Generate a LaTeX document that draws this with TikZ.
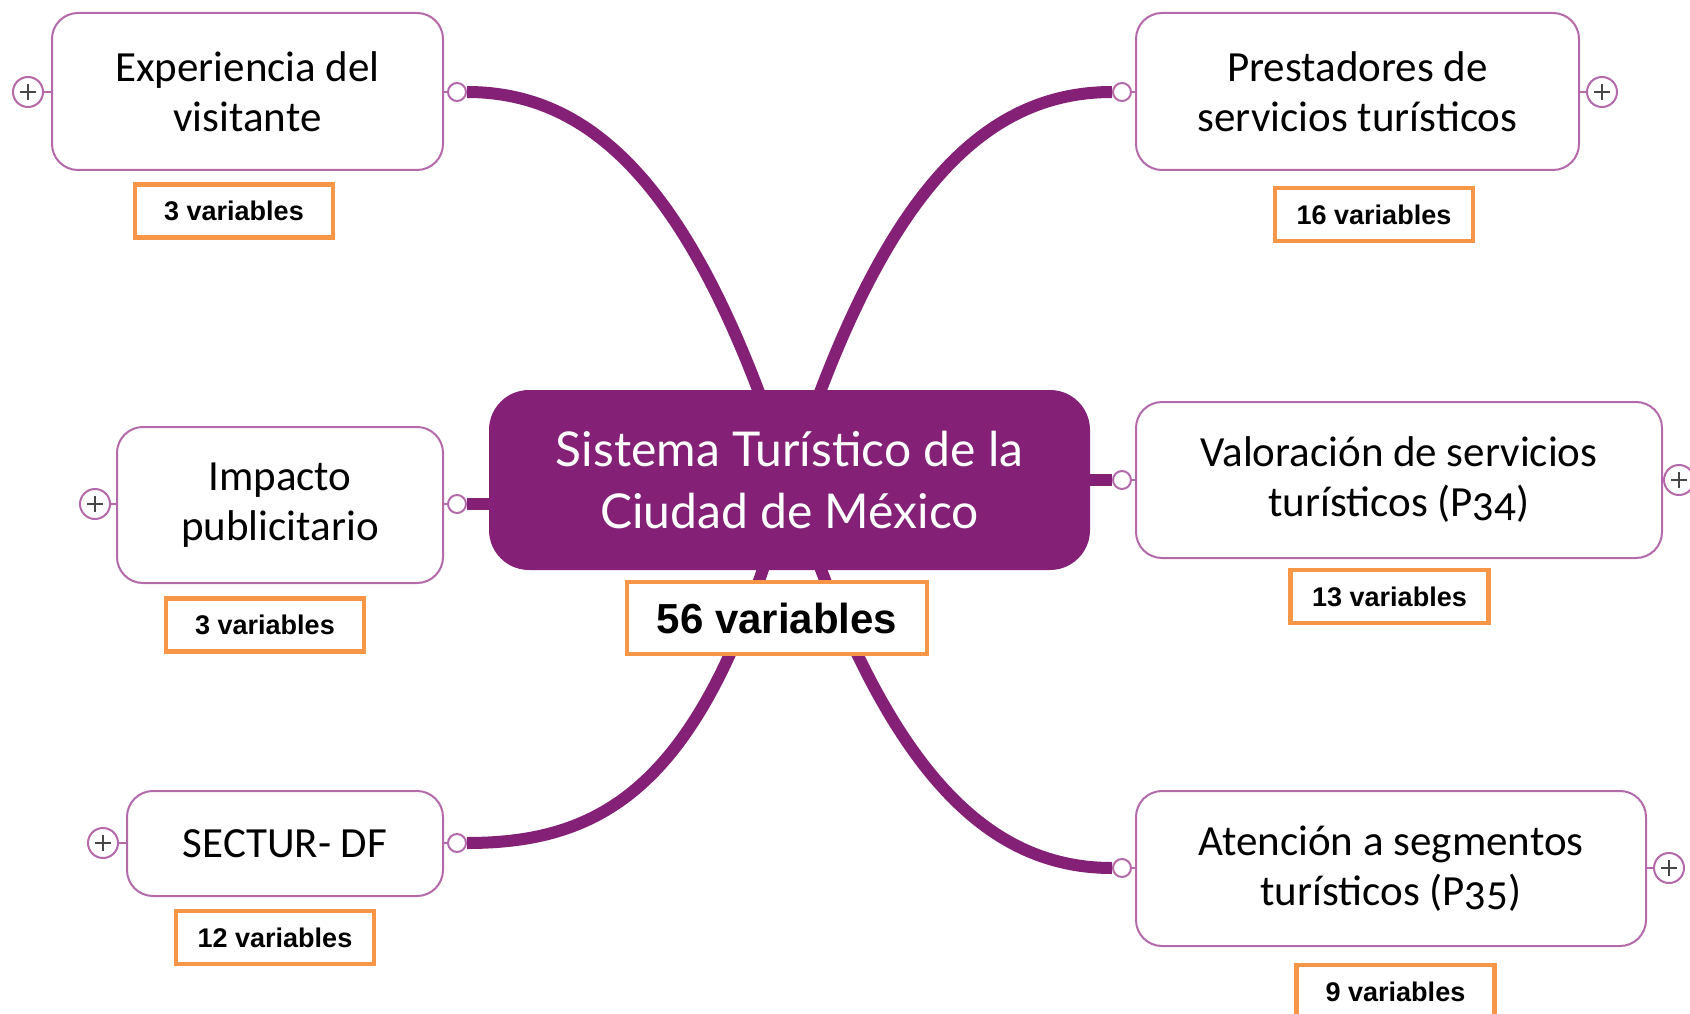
\documentclass[tikz,border=0pt]{standalone}
\usepackage{fontspec}
\newfontfamily\branchfont[Numbers=OldStyle]{Carlito}
\newfontfamily\centfont{Lato}
\newfontfamily\lblfont{Liberation Sans}
\usetikzlibrary{backgrounds}
\definecolor{mpurple}{RGB}{132,33,119}
\definecolor{bline}{RGB}{180,105,170}
\definecolor{morange}{RGB}{247,150,70}
\definecolor{plusgray}{RGB}{70,70,70}
\begin{document}
\begin{tikzpicture}[x=1pt,y=-1pt,
 branch/.style={draw=bline, line width=2pt, rounded corners=26pt, fill=white, align=center, inner sep=0pt, font=\branchfont\fontsize{43}{50}\selectfont},
 hub/.style={fill=mpurple, rounded corners=40pt, text=white, align=center, inner sep=0pt, minimum width=601pt, minimum height=180pt, font=\centfont\fontsize{48}{62}\selectfont},
 count/.style={draw=morange, line width=4.5pt, fill=white, inner sep=0pt, minimum width=198pt, minimum height=53pt, font=\lblfont\bfseries\fontsize{27}{30}\selectfont},
 plusbtn/.style={circle, draw=bline, line width=2pt, fill=white, minimum size=30pt, inner sep=0pt,
   path picture={\draw[plusgray, line width=1.8pt]
     ([xshift=-8pt]path picture bounding box.center) -- ([xshift=8pt]path picture bounding box.center)
     ([yshift=-8pt]path picture bounding box.center) -- ([yshift=8pt]path picture bounding box.center);}},
 dotc/.style={circle, draw=bline, line width=2pt, fill=white, minimum size=18pt, inner sep=0pt},
 conn/.style={draw=mpurple, line width=12pt},
 stub/.style={draw=bline, line width=2pt}]
\path[use as bounding box, clip] (0,0) rectangle (1690,1014);

% central node
\node[hub] (hub) at (789.5,480) {Sistema Turístico de la\\Ciudad de México};
\node[count, minimum width=300pt, minimum height=72pt, font=\lblfont\bfseries\fontsize{42}{46}\selectfont] (total) at (777,618) {56 variables};

% branches
\node[branch, minimum width=391pt, minimum height=157pt] (exp) at (247.5,91.5) {Experiencia del\\visitante};
\node[branch, minimum width=443pt, minimum height=157pt] (pre) at (1357.5,91.5) {Prestadores de\\servicios turísticos};
\node[branch, minimum width=526pt, minimum height=156pt] (val) at (1399,480) {Valoración de servicios\\turísticos (P34)};
\node[branch, minimum width=326pt, minimum height=156pt] (imp) at (280,505) {Impacto\\publicitario};
\node[branch, minimum width=316pt, minimum height=105pt] (sec) at (285,843.5) {SECTUR- DF};
\node[branch, minimum width=510pt, minimum height=155pt] (ate) at (1391,868.5) {Atención a segmentos\\turísticos (P35)};

% counts
\node[count] (cexp) at (234,211) {3 variables};
\node[count] (cpre) at (1374,214.5) {16 variables};
\node[count] (cval) at (1389.5,596.5) {13 variables};
\node[count] (cimp) at (265,625) {3 variables};
\node[count] (csec) at (275,937.5) {12 variables};
\node[count] (cate) at (1395.5,991.5) {9 variables};

% plus buttons
\node[plusbtn] (pexp) at (28,92) {};
\node[plusbtn] (ppre) at (1602,92) {};
\node[plusbtn] (pval) at (1679,480) {};
\node[plusbtn] (pimp) at (95,504) {};
\node[plusbtn] (psec) at (103,843) {};
\node[plusbtn] (pate) at (1669,868) {};
\draw[stub] (pexp) -- (pexp -| exp.west);
\draw[stub] (ppre) -- (ppre -| pre.east);
\draw[stub] (pval) -- (pval -| val.east);
\draw[stub] (pimp) -- (pimp -| imp.west);
\draw[stub] (psec) -- (psec -| sec.west);
\draw[stub] (pate) -- (pate -| ate.east);

% connector dots
\node[dotc] (dexp) at (457,92) {};
\node[dotc] (dpre) at (1122,92) {};
\node[dotc] (dval) at (1122,480) {};
\node[dotc] (dimp) at (457,504) {};
\node[dotc] (dsec) at (457,843) {};
\node[dotc] (date) at (1122,868) {};
\draw[stub] (dexp) -- (dexp -| exp.east);
\draw[stub] (dpre) -- (dpre -| pre.west);
\draw[stub] (dval) -- (dval -| val.west);
\draw[stub] (dimp) -- (dimp -| imp.east);
\draw[stub] (dsec) -- (dsec -| sec.east);
\draw[stub] (date) -- (date -| ate.west);

\begin{pgfonlayer}{background}
\draw[conn] (dexp.east) .. controls (600,92) and (700,200) .. (hub.center);
\draw[conn] (dpre.west) .. controls (979,92) and (879,200) .. (hub.center);
\draw[conn] (dsec.east) .. controls (610,843) and (710,780) .. (hub.center);
\draw[conn] (date.west) .. controls (980,868) and (880,760) .. (hub.center);
\draw[conn] (dimp.east) -- (dimp -| hub.center);
\draw[conn] (dval.west) -- (hub.center);
\end{pgfonlayer}
\end{tikzpicture}
\end{document}
